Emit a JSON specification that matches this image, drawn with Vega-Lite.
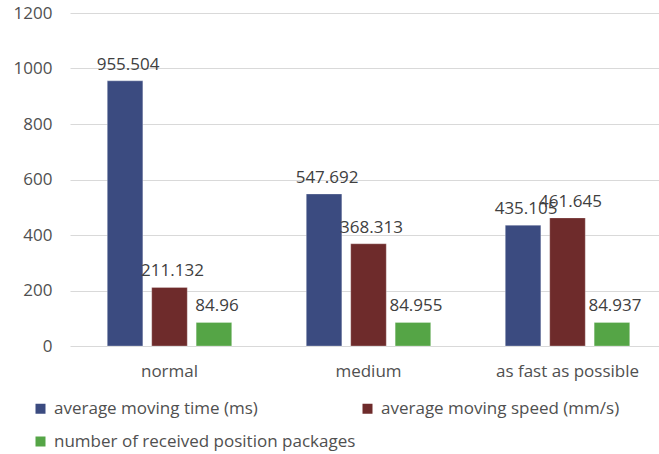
{
  "$schema": "https://vega.github.io/schema/vega-lite/v6.json",
  "width": 589,
  "height": 333,
  "autosize": {"type": "none"},
  "padding": {"left": 70, "top": 13, "right": 0, "bottom": 108},
  "background": "white",
  "config": {
    "font": "Open Sans",
    "view": {"stroke": null}
  },
  "data": {
    "values": [
      {"mode": "normal", "series": "average moving time (ms)", "value": 955.504},
      {"mode": "normal", "series": "average moving speed (mm/s)", "value": 211.132},
      {"mode": "normal", "series": "number of received position packages", "value": 84.96},
      {"mode": "medium", "series": "average moving time (ms)", "value": 547.692},
      {"mode": "medium", "series": "average moving speed (mm/s)", "value": 368.313},
      {"mode": "medium", "series": "number of received position packages", "value": 84.955},
      {"mode": "as fast as possible", "series": "average moving time (ms)", "value": 435.105},
      {"mode": "as fast as possible", "series": "average moving speed (mm/s)", "value": 461.645},
      {"mode": "as fast as possible", "series": "number of received position packages", "value": 84.937}
    ]
  },
  "encoding": {
    "x": {
      "field": "mode",
      "type": "nominal",
      "sort": ["normal", "medium", "as fast as possible"],
      "scale": {"range": [0, 597], "paddingInner": 0.33, "paddingOuter": 0.165},
      "axis": {
        "title": null,
        "labelAngle": 0,
        "domain": false,
        "ticks": false,
        "labelPadding": 17,
        "labelFont": "Open Sans",
        "labelFontSize": 17,
        "labelColor": "#505050"
      }
    },
    "xOffset": {
      "field": "series",
      "type": "nominal",
      "sort": ["average moving time (ms)", "average moving speed (mm/s)", "number of received position packages"],
      "scale": {"paddingInner": 0.2, "paddingOuter": 0.1}
    },
    "y": {
      "field": "value",
      "type": "quantitative",
      "scale": {"domain": [0, 1200], "nice": false},
      "axis": {
        "title": null,
        "values": [0, 200, 400, 600, 800, 1000, 1200],
        "format": "d",
        "domain": false,
        "ticks": false,
        "labelPadding": 18,
        "labelFont": "Open Sans",
        "labelFontSize": 17,
        "labelColor": "#505050",
        "gridColor": "#d9d9d9",
        "gridWidth": 1.2
      }
    }
  },
  "layer": [
    {
      "mark": {"type": "bar", "stroke": "#ffffff", "strokeOpacity": 0.35, "strokeWidth": 0.8},
      "encoding": {
        "color": {
          "field": "series",
          "type": "nominal",
          "sort": ["average moving time (ms)", "average moving speed (mm/s)", "number of received position packages"],
          "scale": {
            "domain": ["average moving time (ms)", "average moving speed (mm/s)", "number of received position packages"],
            "range": ["#3b4b80", "#6e2b2b", "#55a546"]
          },
          "legend": {
            "title": null,
            "orient": "none",
            "direction": "horizontal",
            "columns": 2,
            "legendX": -38,
            "legendY": 387,
            "symbolType": "square",
            "symbolSize": 100,
            "symbolStrokeWidth": 0,
            "labelOffset": 5,
            "labelLimit": 500,
            "labelFont": "Open Sans",
            "labelFontSize": 17,
            "labelColor": "#505050",
            "columnPadding": 3,
            "rowPadding": 15,
            "padding": 0
          }
        }
      }
    },
    {
      "mark": {"type": "text", "baseline": "alphabetic", "dx": 3, "dy": -11, "fontSize": 17, "font": "Open Sans", "color": "#404040"},
      "encoding": {
        "text": {"field": "value", "type": "nominal"}
      }
    }
  ]
}
